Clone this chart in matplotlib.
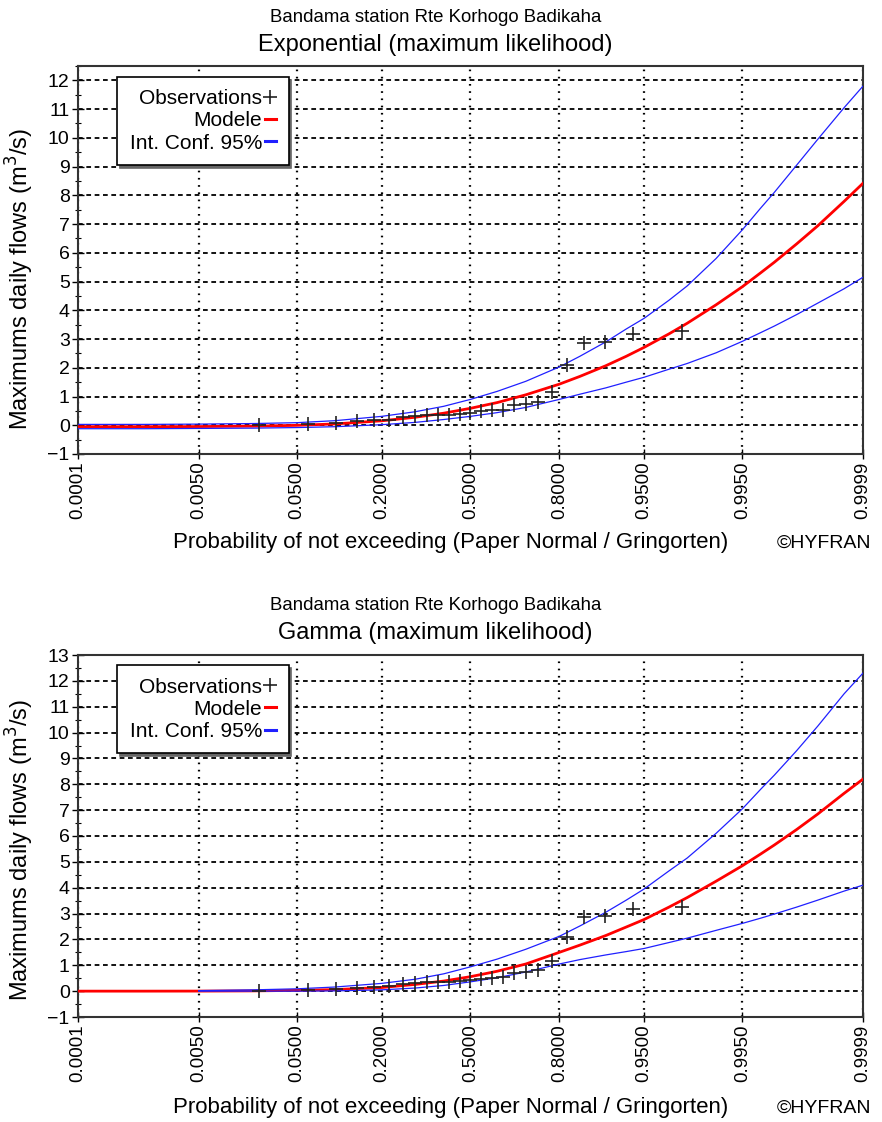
import numpy as np
import matplotlib
matplotlib.use("Agg")
import matplotlib.pyplot as plt
from matplotlib.ticker import FixedLocator, MultipleLocator
from statistics import NormalDist

plt.rcParams['font.family'] = ['Liberation Sans', 'DejaVu Sans']
plt.rcParams['lines.scale_dashes'] = False

# --- data ---
station = "Bandama station Rte Korhogo Badikaha"

# Gringorten plotting positions (n = 25) and sorted observed maxima
obs_prob = [0.0223, 0.0621, 0.1019, 0.1417, 0.1815, 0.2213, 0.2611, 0.3010,
            0.3408, 0.3806, 0.4204, 0.4602, 0.5000, 0.5398, 0.5796, 0.6194,
            0.6592, 0.6990, 0.7389, 0.7787, 0.8185, 0.8583, 0.8981, 0.9379,
            0.9777]
obs_flow = [0.00, 0.06, 0.09, 0.14, 0.17, 0.20, 0.28, 0.32, 0.34, 0.35,
            0.37, 0.40, 0.44, 0.48, 0.52, 0.54, 0.72, 0.75, 0.80, 1.17,
            2.10, 2.85, 2.90, 3.18, 3.27]

# probabilities where the curves were read
curve_prob = [0.0001, 0.001, 0.005, 0.02, 0.05, 0.1, 0.2, 0.3, 0.4, 0.5, 0.6,
              0.7, 0.8, 0.85, 0.9, 0.93, 0.95, 0.97, 0.98, 0.99, 0.995, 0.997,
              0.998, 0.999, 0.9995, 0.9998, 0.9999]

exp_model = [-0.05, -0.05, -0.045, -0.03, -0.003, 0.047, 0.155, 0.278, 0.42,
             0.59, 0.79, 1.06, 1.43, 1.70, 2.07, 2.40, 2.71, 3.18, 3.55, 4.19,
             4.82, 5.30, 5.67, 6.31, 6.94, 7.79, 8.42]
exp_upper = [0.03, 0.03, 0.04, 0.06, 0.09, 0.16, 0.31, 0.47, 0.66, 0.90, 1.18,
             1.53, 2.03, 2.40, 2.90, 3.35, 3.72, 4.35, 4.85, 5.80, 6.80, 7.55,
             8.10, 9.05, 9.95, 11.05, 11.80]
exp_lower = [-0.12, -0.12, -0.11, -0.10, -0.08, -0.05, 0.02, 0.10, 0.20, 0.31,
             0.44, 0.62, 0.90, 1.08, 1.30, 1.50, 1.67, 1.95, 2.15, 2.52, 2.92,
             3.22, 3.45, 3.85, 4.25, 4.75, 5.15]

gam_model = [0.0, 0.0, 0.002, 0.01, 0.03, 0.06, 0.14, 0.26, 0.39, 0.56, 0.77,
             1.05, 1.50, 1.78, 2.15, 2.48, 2.77, 3.25, 3.62, 4.25, 4.85, 5.30,
             5.65, 6.25, 6.85, 7.65, 8.20]
# confidence band for gamma only drawn from p = 0.005
gam_ci_prob = curve_prob[2:]
gam_upper = [0.02, 0.05, 0.09, 0.16, 0.30, 0.46, 0.67, 0.94, 1.24, 1.62, 2.12,
             2.52, 3.05, 3.52, 3.95, 4.65, 5.15, 6.10, 7.05, 7.80, 8.35, 9.30,
             10.25, 11.50, 12.30]
gam_lower = [0.0, 0.0, 0.0, 0.01, 0.05, 0.12, 0.22, 0.36, 0.52, 0.74, 1.05,
             1.22, 1.40, 1.53, 1.65, 1.88, 2.05, 2.35, 2.62, 2.82, 2.98, 3.25,
             3.52, 3.87, 4.10]

xtick_vals = [0.0001, 0.005, 0.05, 0.2, 0.5, 0.8, 0.95, 0.995, 0.9999]
xtick_labels = ['0.0001', '0.0050', '0.0500', '0.2000', '0.5000', '0.8000',
                '0.9500', '0.9950', '0.9999']

_nd = NormalDist()
_ppf = np.vectorize(_nd.inv_cdf, otypes=[float])
_cdf = np.vectorize(_nd.cdf, otypes=[float])


def to_z(p):
    p = np.clip(np.asarray(p, dtype=float), 1e-12, 1 - 1e-12)
    return _ppf(p)


def from_z(z):
    return _cdf(np.asarray(z, dtype=float))


def draw_panel(ax, model, m_prob, upper, lower, ci_prob, ymax, ylab_y):
    ax.set_xscale('function', functions=(to_z, from_z))
    ax.plot(m_prob, model, color='red', lw=2.0, zorder=3, label='Modele')
    ax.plot(ci_prob, upper, color='#2020ff', lw=0.9, zorder=4, label='Int. Conf. 95%')
    ax.plot(ci_prob, lower, color='#2020ff', lw=0.9, zorder=4)
    ax.plot(obs_prob, obs_flow, ls='none', marker='+', ms=10, mew=1.2,
            color='#222222', zorder=5, label='Observations')

    ax.set_xlim(0.0001, 0.9999)
    ax.set_ylim(-1, ymax)
    ax.xaxis.set_major_locator(FixedLocator(xtick_vals))
    ax.xaxis.set_minor_locator(FixedLocator([]))
    ax.set_xticklabels(xtick_labels, rotation=90, fontsize=13.5)
    ax.yaxis.set_major_locator(MultipleLocator(1))
    ax.yaxis.set_minor_locator(MultipleLocator(0.5))
    ax.tick_params(axis='y', labelsize=14, direction='inout', length=8, width=1, pad=2)
    ax.tick_params(axis='y', which='minor', direction='inout', length=4, width=0.8)
    ax.tick_params(axis='x', direction='inout', length=7, width=1, pad=2)

    ax.xaxis.grid(True, color='black', lw=1.6, ls=(0, (1.2, 4.0)))
    ax.yaxis.grid(True, color='black', lw=1.3, ls=(0, (3.4, 2.6)))
    ax.set_axisbelow(True)
    for sp in ax.spines.values():
        sp.set_linewidth(1.5)
        sp.set_color('#333333')

    ax.set_ylabel('Maximums daily flows (m$^3$/s)', fontsize=17)
    ax.yaxis.set_label_coords(-0.054, ylab_y)

    handles, labels = ax.get_legend_handles_labels()
    order = [2, 0, 1]
    leg = ax.legend([handles[i] for i in order], [labels[i] for i in order],
                    loc='upper left', bbox_to_anchor=(0.05, 0.972),
                    borderaxespad=0, markerfirst=False, fontsize=15,
                    handlelength=0.55, handletextpad=0.12, labelspacing=0.15,
                    borderpad=0.6, fancybox=False, shadow={'color': '0.4', 'alpha': 1},
                    framealpha=1, edgecolor='black')
    leg.get_frame().set_linewidth(1.2)
    for h in leg.legend_handles:
        h.set_linewidth(2.2)


fig = plt.figure(figsize=(8.82, 11.22), dpi=100)

ax1 = fig.add_axes([78 / 882, 1 - 454 / 1122, 785 / 882, 388 / 1122])
draw_panel(ax1, exp_model, curve_prob, exp_upper, exp_lower, curve_prob, 12.5, 0.451)
fig.text(0.494, 1 - 18 / 1122, station, ha='center', va='center', fontsize=13.4)
fig.text(0.494, 1 - 45 / 1122, 'Exponential (maximum likelihood)', ha='center',
         va='center', fontsize=17)
fig.text(0.511, 1 - 543 / 1122, 'Probability of not exceeding (Paper Normal / Gringorten)',
         ha='center', va='center', fontsize=16)
fig.text(0.988, 1 - 543 / 1122, '\u00a9HYFRAN', ha='right', va='center', fontsize=14)

ax2 = fig.add_axes([78 / 882, 1 - 1017 / 1122, 785 / 882, 362 / 1122])
draw_panel(ax2, gam_model, curve_prob, gam_upper, gam_lower, gam_ci_prob, 13, 0.461)
fig.text(0.494, 1 - 605 / 1122, station, ha='center', va='center', fontsize=13.4)
fig.text(0.494, 1 - 633 / 1122, 'Gamma (maximum likelihood)', ha='center',
         va='center', fontsize=17)
fig.text(0.511, 1 - 1108 / 1122, 'Probability of not exceeding (Paper Normal / Gringorten)',
         ha='center', va='center', fontsize=16)
fig.text(0.988, 1 - 1108 / 1122, '\u00a9HYFRAN', ha='right', va='center', fontsize=14)

fig.savefig('out.png', dpi=100)
